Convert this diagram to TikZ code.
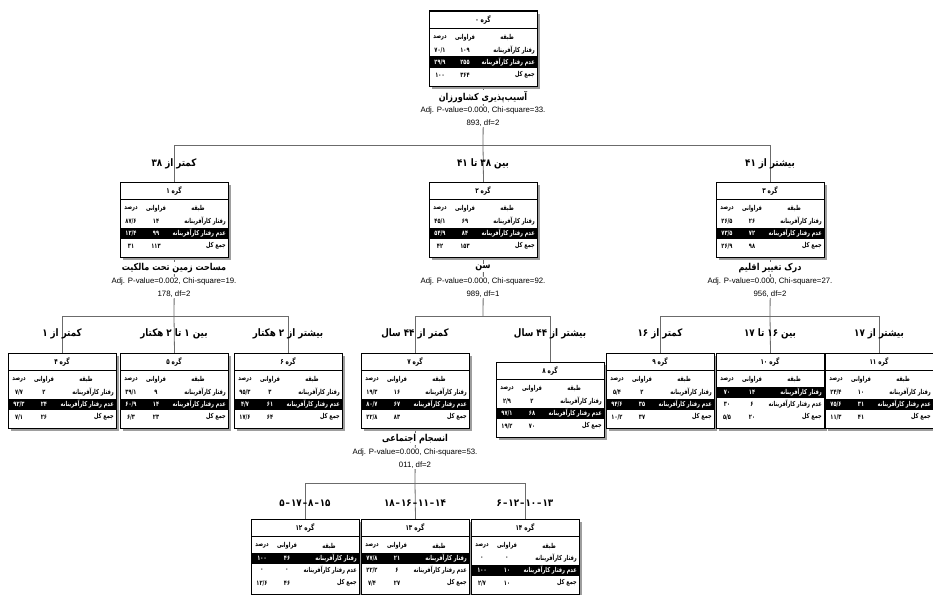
\documentclass[tikz,border=0pt]{standalone}
\usepackage{fontspec}
\setmainfont{Liberation Sans}
\newfontfamily\fa[Script=Arabic,FakeStretch=0.85]{DejaVu Sans}
\newfontfamily\facell[Script=Arabic,FakeStretch=0.74]{DejaVu Sans}
\TeXXeTstate=1
\usetikzlibrary{calc}
\pgfdeclarelayer{bg}
\pgfsetlayers{bg,main}

\definecolor{linegray}{gray}{0.42}
\definecolor{shadowgray}{gray}{0.62}

\tikzset{
  conn/.style={draw=linegray, line width=0.8pt},
  frame/.style={draw=black, line width=1pt, fill=white, minimum width=108pt,
    minimum height=75pt, inner sep=0pt, anchor=north west},
  cell/.style={font=\facell\bfseries\fontsize{6.8}{7}\selectfont, inner sep=0pt},
  ttl/.style={font=\facell\bfseries\fontsize{7.6}{8}\selectfont, inner sep=0pt},
  brl/.style={font=\fa\bfseries\fontsize{10.3}{11}\selectfont, inner sep=0pt},
  varl/.style={font=\fa\bfseries\fontsize{9.5}{10}\selectfont, inner sep=1pt, fill=white},
  stat/.style={font=\fontsize{7.8}{13}\selectfont, inner sep=1pt, fill=white, align=center},
}

% which row of the table is the predicted (highlighted) category
\newcommand\hlrow{2}
% separator of merged categories, kept as its own glyph run
\newcommand\catsep{\kern1pt–\kern1pt}

% one tree node: #1 name, #2 top-left corner, #3 number,
% #4/#5 first row (percent, count), #6/#7 second row, #8/#9 total
\newcommand\gbox[9]{%
  \begin{scope}[shift={(#2)}]
    \fill[shadowgray] (3,3) rectangle (111,78);
    \node[frame] (#1) at (0,0) {};
    \ifnum\hlrow=1
      \fill (0,33.5) rectangle (108,44.5);\def\ca{white}\def\cb{black}%
    \else
      \fill (0,45.5) rectangle (108,56.5);\def\ca{black}\def\cb{white}%
    \fi
    \draw[line width=0.6pt] (0,17) -- (108,17);
    \node[ttl] (#1-t) at (54,8.5) {\beginR گره #3\endR};
    \node[cell] (#1-hp) at (11,27) {درصد};
    \node[cell] (#1-hf) at (36,27) {فراوانی};
    \node[cell] (#1-hc) at (78,27) {طبقه};
    \node[cell,text=\ca] (#1-p1) at (11,39) {#4};
    \node[cell,text=\ca] (#1-f1) at (36,39) {#5};
    \node[cell,text=\ca,anchor=east] (#1-c1) at (106,39) {\beginR رفتار کارآفرینانه\endR};
    \node[cell,text=\cb] (#1-p2) at (11,51) {#6};
    \node[cell,text=\cb] (#1-f2) at (36,51) {#7};
    \node[cell,text=\cb,anchor=east] (#1-c2) at (106,51) {\beginR عدم رفتار کارآفرینانه\endR};
    \node[cell] (#1-p3) at (11,64) {#8};
    \node[cell] (#1-f3) at (36,64) {#9};
    \node[cell,anchor=east] (#1-c3) at (106,64) {\beginR جمع کل\endR};
    \draw[line width=1pt] (0,0) rectangle (108,75);
  \end{scope}}

\begin{document}
\begin{tikzpicture}[x=1pt,y=-1pt]
\useasboundingbox (0,0) rectangle (933,594);

% ---- tables ----
\gbox{n0}{429,11}{۰}{۷۰/۱}{۱۰۹}{۲۹/۹}{۲۵۵}{۱۰۰}{۳۶۴}
\gbox{n1}{120,182}{۱}{۸۷/۶}{۱۴}{۱۲/۴}{۹۹}{۳۱}{۱۱۳}
\gbox{n2}{429,182}{۲}{۴۵/۱}{۶۹}{۵۴/۹}{۸۴}{۴۲}{۱۵۳}
\gbox{n3}{716,182}{۳}{۲۶/۵}{۲۶}{۷۳/۵}{۷۲}{۲۶/۹}{۹۸}
\gbox{n4}{8,353}{۴}{۷/۷}{۲}{۹۲/۳}{۲۴}{۷/۱}{۲۶}
\gbox{n5}{120,353}{۵}{۳۹/۱}{۹}{۶۰/۹}{۱۴}{۶/۳}{۲۳}
\gbox{n6}{234,353}{۶}{۹۵/۳}{۳}{۴/۷}{۶۱}{۱۷/۶}{۶۴}
\gbox{n7}{361,353}{۷}{۱۹/۳}{۱۶}{۸۰/۷}{۶۷}{۲۲/۸}{۸۳}
\gbox{n8}{496,362}{۸}{۲/۹}{۲}{۹۷/۱}{۶۸}{۱۹/۲}{۷۰}
\gbox{n9}{606,353}{۹}{۵/۴}{۲}{۹۴/۶}{۳۵}{۱۰/۲}{۳۷}
\renewcommand\hlrow{1}
\gbox{n10}{716,353}{۱۰}{۷۰}{۱۴}{۳۰}{۶}{۵/۵}{۲۰}
\renewcommand\hlrow{2}
\gbox{n11}{825,353}{۱۱}{۲۴/۴}{۱۰}{۷۵/۶}{۳۱}{۱۱/۳}{۴۱}
\renewcommand\hlrow{1}
\gbox{n12}{251,519}{۱۲}{۱۰۰}{۴۶}{۰}{۰}{۱۲/۶}{۴۶}
\gbox{n13}{361,519}{۱۳}{۷۷/۸}{۲۱}{۲۲/۲}{۶}{۷/۴}{۲۷}
\renewcommand\hlrow{2}
\gbox{n14}{471,519}{۱۴}{۰}{۰}{۱۰۰}{۱۰}{۲/۷}{۱۰}

% ---- split variables and test statistics ----
\node[varl] (v0) at (483,97) {\beginR آسیب‌پذیری کشاورزان\endR};
\node[stat] (s0) at (483,116.5) {Adj. P-value=0.000, Chi-square=33.\\893, df=2};
\node[varl] (v1) at (174,268) {\beginR مساحت زمین تحت مالکیت\endR};
\node[stat] (s1) at (174,287.5) {Adj. P-value=0.002, Chi-square=19.\\178, df=2};
\node[varl] (v2) at (483,268) {\beginR سن\endR};
\node[stat] (s2) at (483,287.5) {Adj. P-value=0.000, Chi-square=92.\\989, df=1};
\node[varl] (v3) at (770,268) {\beginR درک تغییر اقلیم\endR};
\node[stat] (s3) at (770,287.5) {Adj. P-value=0.000, Chi-square=27.\\956, df=2};
\node[varl] (v7) at (415,439) {\beginR انسجام اجتماعی\endR};
\node[stat] (s7) at (415,458.5) {Adj. P-value=0.000, Chi-square=53.\\011, df=2};

% ---- junctions of the connectors ----
\coordinate (j0) at (483,145);
\coordinate (j1) at (174,316);
\coordinate (j2) at (483,316);
\coordinate (j3) at (770,316);
\coordinate (j7) at (415,483);

\begin{pgfonlayer}{bg}
  \fill[white] (0,0) rectangle (933,594);
  \draw[conn] (n0.south) -- (j0);
  \draw[conn] (j0) -| (n1.north);
  \draw[conn] (j0) -- (n2.north);
  \draw[conn] (j0) -| (n3.north);
  \draw[conn] (n1.south) -- (j1);
  \draw[conn] (j1) -| (n4.north);
  \draw[conn] (j1) -- (n5.north);
  \draw[conn] (j1) -| (n6.north);
  \draw[conn] (n2.south) -- (j2);
  \draw[conn] (j2) -| (n7.north);
  \draw[conn] (j2) -| (n8.north);
  \draw[conn] (n3.south) -- (j3);
  \draw[conn] (j3) -| (n9.north);
  \draw[conn] (j3) -- (n10.north);
  \draw[conn] (j3) -| (n11.north);
  \draw[conn] (n7.south) -- (j7);
  \draw[conn] (j7) -| (n12.north);
  \draw[conn] (j7) -- (n13.north);
  \draw[conn] (j7) -| (n14.north);
\end{pgfonlayer}

% ---- branch conditions ----
\node[brl] (b1) at (174,164) {\beginR کمتر از ۳۸\endR};
\node[brl] (b2) at (483,164) {\beginR بین ۳۸ تا ۴۱\endR};
\node[brl] (b3) at (770,164) {\beginR بیشتر از ۴۱\endR};
\node[brl] (b4) at (62,334) {\beginR کمتر از ۱\endR};
\node[brl] (b5) at (174,334) {\beginR بین ۱ تا ۲ هکتار\endR};
\node[brl] (b6) at (288,334) {\beginR بیشتر از ۲ هکتار\endR};
\node[brl] (b7) at (415,334) {\beginR کمتر از ۴۴ سال\endR};
\node[brl] (b8) at (550,334) {\beginR بیشتر از ۴۴ سال\endR};
\node[brl] (b9) at (660,334) {\beginR کمتر از ۱۶\endR};
\node[brl] (b10) at (770,334) {\beginR بین ۱۶ تا ۱۷\endR};
\node[brl] (b11) at (879,334) {\beginR بیشتر از ۱۷\endR};
\node[brl] (b12) at (305,503) {۵\catsep۱۷\catsep۸\catsep۱۵};
\node[brl] (b13) at (415,503) {۱۸\catsep۱۶\catsep۱۱\catsep۱۴};
\node[brl] (b14) at (525,503) {۶\catsep۱۲\catsep۱۰\catsep۱۳};
\end{tikzpicture}
\end{document}
